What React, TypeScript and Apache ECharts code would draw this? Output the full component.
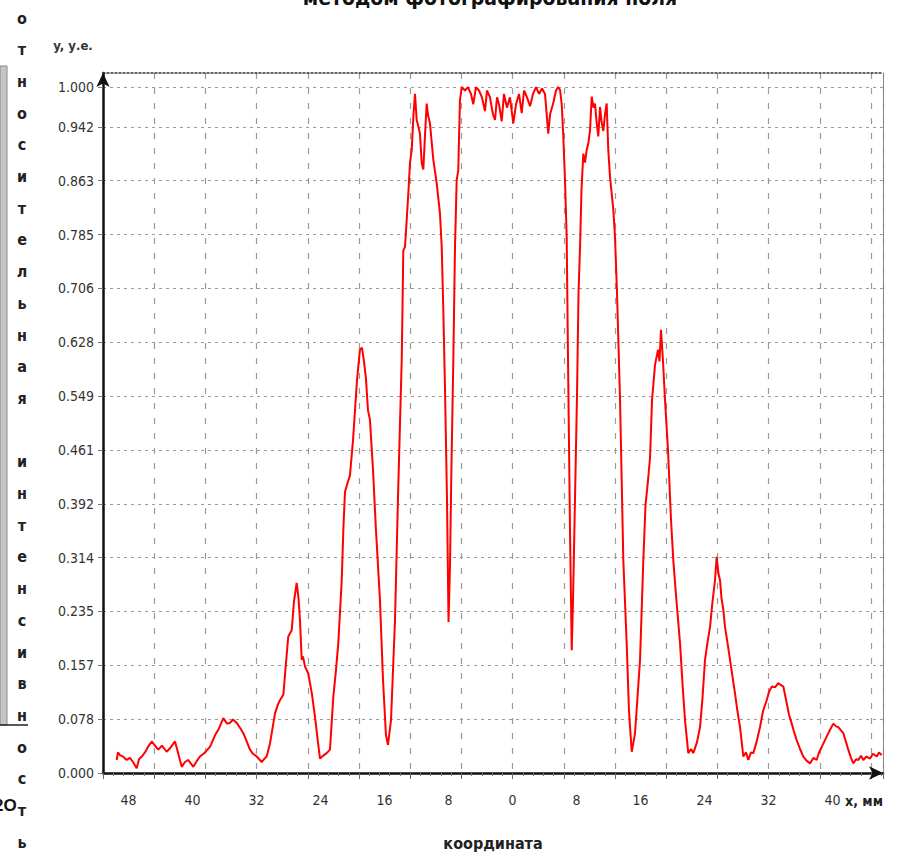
import React, { useEffect, useRef } from 'react';
import * as echarts from 'echarts';

// coordinate, mm (negative = left of centre)
const xMm = [
  -49.49, -49.33, -49.08, -48.7, -48.24, -47.83, -47.45, -46.99, -46.7, -46.36,
  -45.95, -45.58, -45.11, -44.7, -44.29, -43.83, -43.24, -42.83, -42.2, -41.83,
  -41.36, -40.95, -40.54, -39.91, -39.45, -39.08, -38.45, -37.83, -37.2, -36.7,
  -36.16, -35.7, -35.33, -34.95, -34.49, -34.08, -33.66, -33.2, -32.83, -32.45,
  -31.99, -31.36, -31.08, -30.74, -30.33, -30.01, -29.7, -29.33, -29.08, -28.66,
  -28.33, -28.04, -27.61, -27.33, -26.99, -26.76, -26.58, -26.36, -26.2, -25.95,
  -25.54, -25.08, -24.7, -24.33, -24.08, -23.7, -23.24, -22.83, -22.41, -22.08,
  -21.79, -21.36, -21.14, -20.95, -20.7, -20.33, -19.95, -19.45, -19.08, -18.83,
  -18.58, -18.33, -18.08, -17.83, -17.45, -17.08, -16.58, -16.2, -15.83, -15.58,
  -15.2, -14.7, -14.33, -13.86, -13.66, -13.45, -13.24, -13.01, -12.83, -12.61,
  -12.39, -12.2, -11.99, -11.83, -11.58, -11.36, -11.16, -10.95, -10.74, -10.58,
  -10.33, -9.91, -9.49, -9.08, -8.86, -8.66, -8.45, -8.2, -8.01, -7.83,
  -7.64, -7.41, -7.2, -6.99, -6.79, -6.58, -6.36, -5.95, -5.58, -5.2,
  -4.91, -4.58, -4.2, -3.83, -3.45, -3.2, -2.83, -2.45, -2.2, -1.95,
  -1.7, -1.36, -1.08, -0.7, -0.33, 0.09, 0.43, 0.8, 1.14, 1.43,
  1.8, 2.18, 2.55, 2.93, 3.3, 3.68, 4.05, 4.46, 4.68, 5.09,
  5.43, 5.68, 5.93, 6.14, 6.34, 6.55, 6.76, 6.93, 7.18, 7.39,
  7.55, 7.8, 8.05, 8.24, 8.43, 8.61, 8.84, 9.05, 9.26, 9.49,
  9.68, 9.89, 10.11, 10.3, 10.49, 10.71, 10.93, 11.11, 11.34, 11.55,
  11.76, 11.96, 12.18, 12.59, 12.8, 13.05, 13.43, 13.84, 14.26, 14.55,
  14.89, 15.11, 15.3, 15.61, 15.93, 16.34, 16.61, 16.93, 17.18, 17.43,
  17.8, 18.18, 18.36, 18.55, 18.8, 19.05, 19.43, 19.8, 20.09, 20.49,
  20.93, 21.24, 21.55, 21.96, 22.3, 22.59, 23.05, 23.43, 23.74, 24.05,
  24.36, 24.68, 24.99, 25.3, 25.51, 25.74, 25.93, 26.11, 26.34, 26.55,
  26.86, 27.18, 27.49, 27.8, 28.11, 28.43, 28.84, 29.18, 29.46, 29.8,
  30.09, 30.49, 30.93, 31.3, 31.76, 32.05, 32.39, 32.8, 33.21, 33.55,
  33.84, 34.26, 34.55, 34.89, 35.18, 35.51, 35.93, 36.34, 36.74, 37.18,
  37.59, 38.01, 38.3, 38.64, 38.93, 39.26, 39.68, 40.09, 40.43, 40.71,
  41.05, 41.34, 41.68, 41.96, 42.3, 42.59, 42.93, 43.21, 43.55, 43.84,
  44.24, 44.68, 45.05, 45.51, 45.8, 46.14,
];

// relative intensity, arbitrary units
const intensity = [
  0.019, 0.03, 0.026, 0.024, 0.019, 0.022, 0.016, 0.007, 0.02, 0.024,
  0.03, 0.038, 0.046, 0.04, 0.034, 0.04, 0.031, 0.036, 0.046, 0.03,
  0.009, 0.016, 0.019, 0.009, 0.018, 0.024, 0.03, 0.038, 0.055, 0.065,
  0.08, 0.072, 0.073, 0.078, 0.073, 0.066, 0.058, 0.045, 0.034, 0.028,
  0.024, 0.016, 0.02, 0.024, 0.043, 0.065, 0.087, 0.1, 0.106, 0.114,
  0.16, 0.199, 0.208, 0.25, 0.277, 0.255, 0.223, 0.165, 0.17, 0.155,
  0.145, 0.115, 0.082, 0.045, 0.021, 0.025, 0.029, 0.034, 0.111, 0.15,
  0.189, 0.281, 0.36, 0.41, 0.42, 0.434, 0.485, 0.573, 0.617, 0.62,
  0.6, 0.575, 0.529, 0.515, 0.442, 0.354, 0.252, 0.136, 0.055, 0.041,
  0.077, 0.223, 0.4, 0.602, 0.762, 0.767, 0.806, 0.85, 0.889, 0.908,
  0.96, 0.99, 0.952, 0.945, 0.932, 0.889, 0.88, 0.93, 0.976, 0.96,
  0.947, 0.894, 0.86, 0.816, 0.767, 0.675, 0.56, 0.398, 0.22, 0.3,
  0.45, 0.602, 0.767, 0.864, 0.879, 0.981, 1.0, 0.995, 1.0, 0.99,
  0.975, 1.0, 0.995, 0.985, 0.965, 0.995, 0.985, 0.96, 0.952, 0.985,
  0.975, 0.95, 0.99, 0.97, 0.985, 0.947, 0.975, 0.99, 0.962, 0.995,
  0.985, 0.972, 0.99, 1.0, 0.99, 0.998, 0.99, 0.932, 0.96, 0.977,
  0.995, 1.0, 0.996, 0.975, 0.928, 0.864, 0.782, 0.6, 0.35, 0.179,
  0.25, 0.4, 0.55, 0.7, 0.767, 0.85, 0.903, 0.89, 0.908, 0.92,
  0.937, 0.986, 0.97, 0.976, 0.95, 0.928, 0.971, 0.95, 0.936, 0.96,
  0.976, 0.908, 0.869, 0.821, 0.782, 0.7, 0.544, 0.31, 0.189, 0.09,
  0.031, 0.045, 0.058, 0.11, 0.165, 0.31, 0.39, 0.427, 0.46, 0.544,
  0.595, 0.617, 0.6, 0.646, 0.6, 0.544, 0.47, 0.369, 0.31, 0.25,
  0.189, 0.13, 0.077, 0.029, 0.035, 0.029, 0.045, 0.067, 0.11, 0.165,
  0.19, 0.213, 0.25, 0.281, 0.315, 0.29, 0.281, 0.255, 0.238, 0.213,
  0.19, 0.165, 0.14, 0.116, 0.09, 0.067, 0.024, 0.03, 0.019, 0.03,
  0.029, 0.045, 0.067, 0.09, 0.106, 0.118, 0.126, 0.125, 0.131, 0.128,
  0.126, 0.102, 0.085, 0.072, 0.06, 0.048, 0.035, 0.024, 0.018, 0.014,
  0.022, 0.019, 0.03, 0.038, 0.045, 0.053, 0.063, 0.072, 0.068, 0.067,
  0.062, 0.058, 0.045, 0.034, 0.022, 0.014, 0.02, 0.019, 0.025, 0.019,
  0.024, 0.021, 0.028, 0.024, 0.03, 0.026,
];

const xLabelValues = [-48, -40, -32, -24, -16, -8, 0, 8, 16, 24, 32, 40];
const yLabelValues = [0, 0.0785, 0.157, 0.2355, 0.314, 0.3925, 0.471, 0.5495, 0.628, 0.7065, 0.785, 0.8635, 0.942, 1.0];
const yLabelTexts = ['0.000', '0.078', '0.157', '0.235', '0.314', '0.392', '0.461', '0.549', '0.628', '0.706', '0.785', '0.863', '0.942', '1.000'];

const titleText = 'методом фотографирования поля';
const yAxisVerticalTitle = 'относительная интенсивность';
const xAxisTitle = 'координата';
const xUnitText = 'x, мм';
const yUnitText = 'y, у.е.';
const cornerText = '2O';

const NARROW = "'Liberation Sans Narrow', 'DejaVu Sans Condensed', 'Roboto Condensed', 'Liberation Sans', Arial, sans-serif";

export default function App() {
  const ref = useRef<HTMLDivElement>(null);

  useEffect(() => {
    if (!ref.current) return;
    const chart = echarts.init(ref.current, null, { renderer: 'svg' });

    const yFormatter = (v: number) => {
      let best = 0;
      let bd = Infinity;
      yLabelValues.forEach((t, i) => {
        const d = Math.abs(t - v);
        if (d < bd) { bd = d; best = i; }
      });
      return yLabelTexts[best];
    };

    const option: any = {
      animation: false,
      backgroundColor: '#ffffff',
      textStyle: { fontFamily: NARROW },
      grid: { left: 103, top: 73, right: 14, bottom: 84, containLabel: false, outerBoundsMode: 'none' },
      xAxis: [
        {
          type: 'value',
          position: 'bottom',
          min: -51.2,
          max: 46.3,
          interval: 6.4,
          axisLine: {
            show: true,
            onZero: false,
            lineStyle: { color: '#111', width: 2.5 },
            symbol: ['none', 'arrow'],
            symbolSize: [10, 14],
          },
          axisTick: { show: true, inside: false, length: 6, lineStyle: { color: '#666', width: 1 } },
          minorTick: { show: true, splitNumber: 5, length: 3, lineStyle: { color: '#777', width: 1 } },
          axisLabel: {
            customValues: xLabelValues,
            formatter: (v: number) => String(Math.abs(Math.round(v))),
            margin: 20,
            fontSize: 14,
            color: '#333',
            fontFamily: NARROW,
          },
          splitLine: { show: true, lineStyle: { color: '#9a9a9a', type: [6, 9], width: 1.2 } },
          name: xAxisTitle,
          nameLocation: 'middle',
          nameGap: 62,
          nameTextStyle: { fontSize: 16, fontWeight: 'bold', color: '#222', fontFamily: NARROW },
        },
        {
          type: 'value',
          position: 'top',
          min: -51.2,
          max: 46.3,
          axisLine: { show: true, onZero: false, lineStyle: { color: '#333', type: [2, 2], width: 1.5 } },
          axisTick: { show: false },
          axisLabel: { show: false },
          splitLine: { show: false },
        },
      ],
      yAxis: [
        {
          type: 'value',
          min: 0,
          max: 1.0205,
          interval: 0.0785,
          axisLine: {
            show: true,
            onZero: false,
            lineStyle: { color: '#111', width: 2.5 },
            symbol: ['none', 'arrow'],
            symbolSize: [10, 14],
          },
          axisTick: { show: true, customValues: yLabelValues, length: 5, lineStyle: { color: '#777', width: 1 } },
          axisLabel: {
            customValues: yLabelValues,
            formatter: yFormatter,
            margin: 9,
            fontSize: 14,
            color: '#333',
            fontFamily: NARROW,
          },
          splitLine: { show: true, lineStyle: { color: '#9a9a9a', type: [3, 4], width: 1.2 } },
        },
        {
          type: 'value',
          position: 'right',
          min: 0,
          max: 1.0205,
          axisLine: { show: true, onZero: false, lineStyle: { color: '#888', width: 1 } },
          axisTick: { show: false },
          axisLabel: { show: false },
          splitLine: { show: false },
        },
      ],
      series: [
        {
          type: 'line',
          xAxisIndex: 0,
          yAxisIndex: 0,
          data: xMm.map((x, i) => [x, intensity[i]]),
          showSymbol: false,
          symbol: 'none',
          lineStyle: { color: '#ff0000', width: 2 },
          z: 5,
        },
      ],
      graphic: [
        {
          type: 'text',
          x: 490,
          y: -2,
          style: {
            text: titleText,
            font: `bold 21px ${NARROW}`,
            fill: '#111',
            align: 'center',
            verticalAlign: 'middle',
          },
        },
        {
          type: 'text',
          x: 73,
          y: 45,
          style: {
            text: yUnitText,
            font: `bold 13px ${NARROW}`,
            fill: '#333',
            align: 'center',
            verticalAlign: 'middle',
          },
        },
        {
          type: 'text',
          x: 864,
          y: 801,
          style: {
            text: xUnitText,
            font: `bold 14px ${NARROW}`,
            fill: '#222',
            align: 'center',
            verticalAlign: 'middle',
          },
        },
        {
          type: 'text',
          x: 22,
          y: 2.2,
          style: {
            text: yAxisVerticalTitle.split('').join('\n'),
            font: `bold 16px ${NARROW}`,
            lineHeight: 31.7,
            fill: '#222',
            align: 'center',
            verticalAlign: 'top',
          },
        },
        {
          type: 'rect',
          shape: { x: 0, y: 66, width: 7, height: 659 },
          style: { fill: '#c4c4c4', stroke: '#888', lineWidth: 1 },
        },
        {
          type: 'line',
          shape: { x1: 0, y1: 725, x2: 28, y2: 725 },
          style: { stroke: '#222', lineWidth: 1.5 },
        },
        {
          type: 'text',
          x: -6,
          y: 805,
          style: {
            text: cornerText,
            font: `bold 17px Arial, 'Liberation Sans', sans-serif`,
            fill: '#111',
            align: 'left',
            verticalAlign: 'middle',
          },
        },
      ],
    };

    chart.setOption(option);
    return () => chart.dispose();
  }, []);

  return (
    <div
      ref={ref}
      style={{ position: 'fixed', left: 0, top: 0, width: 897, height: 857, background: '#fff' }}
    />
  );
}
